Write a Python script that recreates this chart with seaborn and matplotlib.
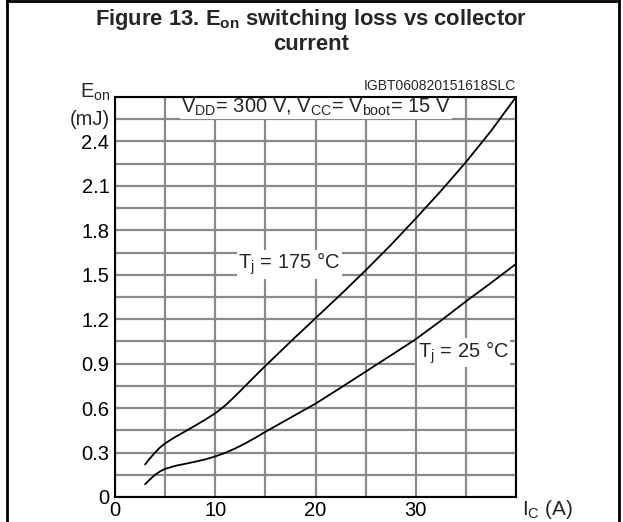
import numpy as np
import pandas as pd
import matplotlib
matplotlib.use("Agg")
import matplotlib.pyplot as plt
from matplotlib.lines import Line2D
import seaborn as sns

# ---- data ----
ic_175 = [3, 3.5, 4, 4.5, 5, 6, 7, 8, 9, 10, 11, 12, 13, 14, 15, 16, 17, 18, 19, 20,
          22.5, 25, 27.5, 30, 32.5, 35, 37.5, 40]
eon_175 = [0.22, 0.262, 0.30, 0.335, 0.362, 0.405, 0.443, 0.482, 0.522, 0.565, 0.618,
           0.682, 0.75, 0.818, 0.885, 0.95, 1.015, 1.08, 1.143, 1.207,
           1.366, 1.53, 1.70, 1.88, 2.065, 2.26, 2.47, 2.70]
ic_25 = [3, 3.5, 4, 4.5, 5, 6, 7, 8, 9, 10, 11, 12, 13, 14, 15, 17.5, 20,
         22.5, 25, 27.5, 30, 32.5, 35, 37.5, 40]
eon_25 = [0.086, 0.12, 0.15, 0.173, 0.19, 0.21, 0.224, 0.238, 0.254, 0.274, 0.298,
          0.328, 0.362, 0.40, 0.44, 0.535, 0.63, 0.737, 0.846, 0.955, 1.065,
          1.19, 1.32, 1.445, 1.573]

x_ticks = [0, 5, 10, 15, 20, 25, 30, 35, 40]
x_labels = ["0", "", "10", "", "20", "", "30", "", ""]
y_ticks = [0, 0.15, 0.3, 0.45, 0.6, 0.75, 0.9, 1.05, 1.2, 1.35, 1.5, 1.65,
           1.8, 1.95, 2.1, 2.25, 2.4, 2.55, 2.7]
y_labels = ["0", "", "0.3", "", "0.6", "", "0.9", "", "1.2", "", "1.5", "",
            "1.8", "", "2.1", "", "2.4", "", ""]

df = pd.concat([
    pd.DataFrame({"Ic": ic_175, "Eon": eon_175, "Tj": "175"}),
    pd.DataFrame({"Ic": ic_25, "Eon": eon_25, "Tj": "25"}),
])

sns.set_theme(style="white")
plt.rcParams["font.family"] = ["Liberation Sans", "DejaVu Sans"]
plt.rcParams["mathtext.fontset"] = "custom"
plt.rcParams["mathtext.rm"] = "Liberation Sans"
plt.rcParams["mathtext.it"] = "Liberation Sans:italic"
plt.rcParams["mathtext.bf"] = "Liberation Sans:bold"

W, H = 623, 522
fig = plt.figure(figsize=(W / 100, H / 100), dpi=100)
ax = fig.add_axes([115 / W, 1 - 497 / H, (516 - 115) / W, (497 - 97) / H])

sns.lineplot(data=df, x="Ic", y="Eon", hue="Tj", palette=["black", "black"],
             linewidth=1.3, legend=False, ax=ax, estimator=None, sort=False)

ax.set_xlim(0, 40)
ax.set_ylim(0, 2.7)
ax.set_xticks(x_ticks)
ax.set_xticklabels(x_labels)
ax.set_yticks(y_ticks)
ax.set_yticklabels(y_labels)
ax.tick_params(axis="both", length=0, labelsize=14.5, colors="black")
ax.tick_params(axis="y", pad=4)
ax.tick_params(axis="x", pad=3)
ax.grid(True, color="#8a8a8a", linewidth=1.6)
ax.set_axisbelow(True)
for s in ax.spines.values():
    s.set_visible(True)
    s.set_color("black")
    s.set_linewidth(1.5)
    s.set_zorder(5)
ax.set_xlabel("")
ax.set_ylabel("")

# axis unit labels
ax.text(-0.012, 2.55, "(mJ)", transform=ax.get_yaxis_transform(), ha="right",
        va="center", fontsize=14.5)
ax.text(-0.012, 2.73, r"E$_\mathregular{on}$", transform=ax.get_yaxis_transform(),
        ha="right", va="center", fontsize=14.5)
ax.text(40.6, -0.01, r"I$_\mathregular{C}$ (A)", ha="left", va="top", fontsize=15,
        clip_on=False)

# annotations (white boxes sit above the grid but below the curves)
box = dict(facecolor="white", edgecolor="none", pad=0.8)
ax.text(6.6, 2.63, r"V$_\mathregular{DD}$= 300 V, V$_\mathregular{CC}$= V$_\mathregular{boot}$= 15 V",
        ha="left", va="center", fontsize=14.5, bbox=box, zorder=1.5)
ax.text(40, 2.73, "IGBT060820151618SLC", ha="right", va="bottom", fontsize=10)
ax.text(12.3, 1.572, r"T$_\mathregular{j}$ = 175 °C", ha="left", va="center",
        fontsize=14.5, bbox=box, zorder=1.5)
ax.text(30.2, 0.975, r"T$_\mathregular{j}$ = 25 °C", ha="left", va="center",
        fontsize=14.5, bbox=box, zorder=1.5)

# title
fig.text(0.5, 1 - 19 / H, r"Figure 13. E$_\mathbf{on}$ switching loss vs collector",
         ha="center", va="center", fontsize=15.8, fontweight="bold")
fig.text(0.5, 1 - 44 / H, "current", ha="center", va="center", fontsize=15.8,
         fontweight="bold")

# outer frame
fig.add_artist(Line2D([7 / W, 7 / W], [0, 1], color="black", linewidth=2,
                      transform=fig.transFigure))
fig.add_artist(Line2D([619 / W, 619 / W], [0, 1], color="black", linewidth=2,
                      transform=fig.transFigure))
fig.add_artist(Line2D([7 / W, 619 / W], [1 - 1 / H, 1 - 1 / H], color="black",
                      linewidth=2, transform=fig.transFigure))

fig.savefig("out.png", dpi=100, facecolor="white")
